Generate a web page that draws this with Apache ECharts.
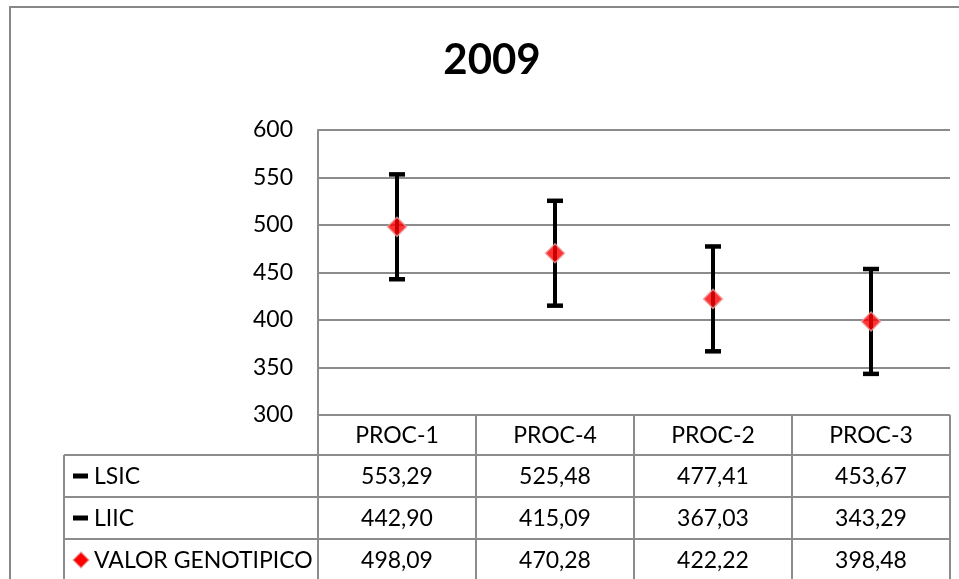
<!DOCTYPE html>
<html>
<head>
<meta charset="utf-8">
<script src="https://cdn.jsdelivr.net/npm/echarts@6/dist/echarts.min.js"></script>
<style>html,body{margin:0;padding:0;background:#fff}#c{width:959px;height:579px}</style>
</head>
<body>
<div id="c"></div>
<script>
var categories = ['PROC-1', 'PROC-4', 'PROC-2', 'PROC-3'];
var lsic = [553.29, 525.48, 477.41, 453.67];
var liic = [442.90, 415.09, 367.03, 343.29];
var valorGenotipico = [498.09, 470.28, 422.22, 398.48];
var seriesNames = ['LSIC', 'LIIC', 'VALOR GENOTIPICO'];
var yTicks = [300, 350, 400, 450, 500, 550, 600];

var FONT = 'Lato';
var FS = 23;
var GRID = '#8c8c8c';
var ROW_H = [40, 42, 42, 42];
var TABLE_LEFT = 64;

function fmt(v) { return v.toFixed(2).replace('.', ','); }

var chart = echarts.init(document.getElementById('c'));

var errData = categories.map(function (c, i) { return [i, liic[i], lsic[i]]; });
var tableData = categories.map(function (c, i) { return [i, lsic[i], liic[i], valorGenotipico[i]]; });

function renderError(params, api) {
  var i = api.value(0);
  var lo = api.coord([i, api.value(1)]);
  var hi = api.coord([i, api.value(2)]);
  var cap = 8;
  return {
    type: 'group',
    children: [
      { type: 'line', shape: { x1: lo[0], y1: lo[1], x2: hi[0], y2: hi[1] }, style: { stroke: '#000', lineWidth: 4 } },
      { type: 'line', shape: { x1: hi[0] - cap, y1: hi[1], x2: hi[0] + cap, y2: hi[1] }, style: { stroke: '#000', lineWidth: 4.5 } },
      { type: 'line', shape: { x1: lo[0] - cap, y1: lo[1], x2: lo[0] + cap, y2: lo[1] }, style: { stroke: '#000', lineWidth: 4.5 } }
    ]
  };
}

function renderTable(params, api) {
  var i = api.value(0);
  var base = api.coord([i, yTicks[0]]);
  var band = api.size([1, 0])[0];
  var cx = base[0];
  var x0 = cx - band / 2, x1 = cx + band / 2;
  var y = base[1];
  var children = [];
  var ls = { stroke: GRID, lineWidth: 2 };
  var bottom = y + ROW_H[0] + ROW_H[1] + ROW_H[2] + ROW_H[3] + 20;
  children.push({ type: 'line', shape: { x1: x0, y1: y, x2: x0, y2: bottom }, style: ls });
  children.push({ type: 'line', shape: { x1: x1, y1: y, x2: x1, y2: bottom }, style: ls });
  var yy = y + ROW_H[0];
  var vals = [api.value(1), api.value(2), api.value(3)];
  for (var r = 0; r < 3; r++) {
    children.push({ type: 'line', shape: { x1: x0, y1: yy, x2: x1, y2: yy }, style: ls });
    children.push({ type: 'text', x: cx, y: yy + ROW_H[r + 1] / 2 + 1, style: { text: fmt(vals[r]), font: FS + 'px ' + FONT, fill: '#000', align: 'center', verticalAlign: 'middle' } });
    yy += ROW_H[r + 1];
  }
  children.push({ type: 'line', shape: { x1: x0, y1: yy, x2: x1, y2: yy }, style: ls });
  if (i === 0) {
    var lyy = y + ROW_H[0];
    children.push({ type: 'line', shape: { x1: TABLE_LEFT, y1: lyy, x2: TABLE_LEFT, y2: bottom }, style: ls });
    for (var k = 0; k < 3; k++) {
      children.push({ type: 'line', shape: { x1: TABLE_LEFT, y1: lyy, x2: x0, y2: lyy }, style: ls });
      var my = lyy + ROW_H[k + 1] / 2;
      if (k < 2) {
        children.push({ type: 'rect', shape: { x: TABLE_LEFT + 9, y: my - 2.5, width: 15, height: 5 }, style: { fill: '#000' } });
      } else {
        children.push({ type: 'polygon', shape: { points: [[TABLE_LEFT + 17, my - 8], [TABLE_LEFT + 25, my], [TABLE_LEFT + 17, my + 8], [TABLE_LEFT + 9, my]] }, style: { fill: '#ff0000', stroke: '#e8a0a0', lineWidth: 1.2 } });
      }
      children.push({ type: 'text', x: TABLE_LEFT + 30, y: my + 1, style: { text: seriesNames[k], font: FS + 'px ' + FONT, fill: '#000', align: 'left', verticalAlign: 'middle' } });
      lyy += ROW_H[k + 1];
    }
    children.push({ type: 'line', shape: { x1: TABLE_LEFT, y1: lyy, x2: x0, y2: lyy }, style: ls });
  }
  return { type: 'group', children: children };
}

chart.setOption({
  animation: false,
  backgroundColor: '#fff',
  title: {
    text: '2009', left: 487, top: 34, textAlign: 'center',
    textStyle: { fontFamily: FONT, fontSize: 42, fontWeight: 'bold', color: '#000' }
  },
  graphic: [{
    type: 'rect', shape: { x: 10, y: 7, width: 1100, height: 1000 },
    style: { fill: 'none', stroke: '#888', lineWidth: 2 }, silent: true, z: 100
  }],
  grid: { left: 318, right: 9, top: 130, bottom: 164, containLabel: false },
  xAxis: {
    type: 'category', data: categories, boundaryGap: true,
    axisLine: { show: false }, axisTick: { show: false },
    axisLabel: { fontFamily: FONT, fontSize: FS, color: '#000', margin: 9 },
    splitLine: { show: false }
  },
  yAxis: {
    type: 'value', min: 300, max: 600, interval: 50,
    axisLine: { show: true, lineStyle: { color: GRID, width: 2 } },
    axisTick: { show: false },
    axisLabel: { fontFamily: FONT, fontSize: FS, color: '#000', margin: 25 },
    splitLine: { show: true, lineStyle: { color: GRID, width: 2 } }
  },
  series: [
    { name: 'error', type: 'custom', renderItem: renderError, data: errData, z: 3, clip: false },
    {
      name: seriesNames[2], type: 'scatter', data: valorGenotipico, symbol: 'diamond', symbolSize: 19,
      itemStyle: { color: '#ff0000', borderColor: '#e8a0a0', borderWidth: 1.5 }, z: 5
    },
    { name: 'table', type: 'custom', renderItem: renderTable, data: tableData, z: 2, clip: false, silent: true }
  ]
});
</script>
</body>
</html>
